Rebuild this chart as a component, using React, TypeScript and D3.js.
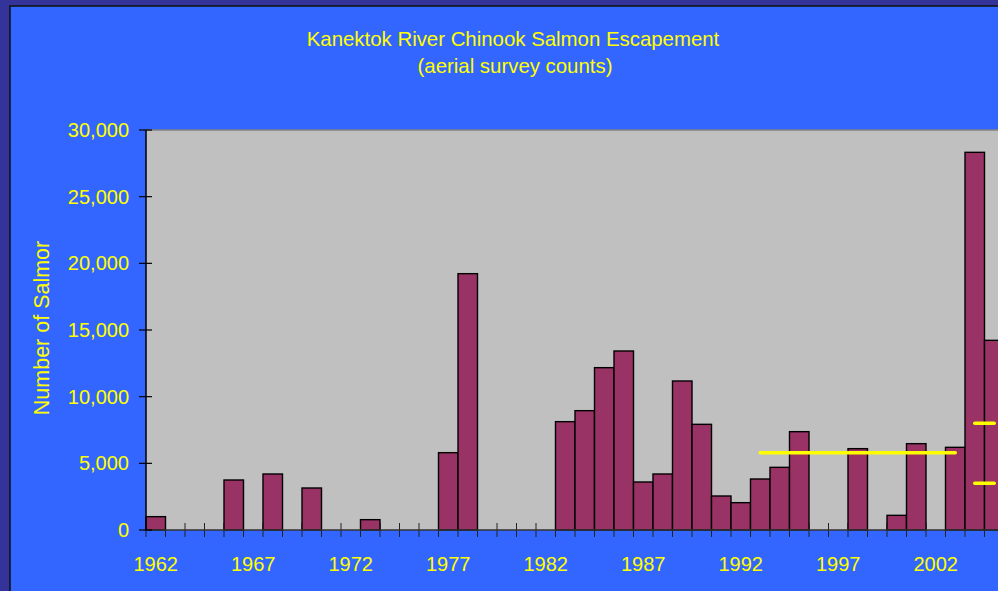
import React from "react";
import * as d3 from "d3";

// escapement counts by year (0 = no survey)
const years = d3.range(1962, 2006);
const counts = [
  1000, 0, 0, 0, 3750, 0, 4200, 0, 3150, 0,
  0, 775, 0, 0, 0, 5800, 19225, 0, 0, 0,
  0, 8125, 8950, 12175, 13425, 3600, 4200, 11175, 7925, 2550,
  2050, 3825, 4700, 7375, 0, 0, 6100, 0, 1100, 6475,
  0, 6200, 28325, 14225,
];
const yTicks = [0, 5000, 10000, 15000, 20000, 25000, 30000];
const labelYears = [1962, 1967, 1972, 1977, 1982, 1987, 1992, 1997, 2002];

// goal ranges drawn as yellow lines
const goalLines = [
  { from: 1993, to: 2003, value: 5800 },
  { from: 2004, to: 2005, value: 8000 },
  { from: 2004, to: 2005, value: 3500 },
];

const W = 998, H = 591;
const plot = { left: 146, top: 130, bottom: 530 };
const step = 19.5;

export default function App() {
  const x = d3.scaleBand<number>()
    .domain(years)
    .range([plot.left, plot.left + years.length * step])
    .padding(0);
  const y = d3.scaleLinear().domain([0, 30000]).range([plot.bottom, plot.top]);
  const fmt = d3.format(",");
  const font = "'Liberation Sans', Arial, sans-serif";
  const yellow = "#FFFF00";
  const center = (yr: number) => (x(yr) as number) + x.bandwidth() / 2;

  return (
    <div style={{ position: "fixed", left: 0, top: 0 }}>
      <svg width={W} height={H} style={{ display: "block" }} fontFamily={font}>
        <rect x={0} y={0} width={W} height={H} fill="#333399" />
        <rect x={10} y={6} width={W + 10} height={H + 10} fill="#3366FF" stroke="#111" strokeWidth={1.5} />

        <text x={513} y={46} textAnchor="middle" fontSize={20.4} fill={yellow}>
          Kanektok River Chinook Salmon Escapement
        </text>
        <text x={515} y={73} textAnchor="middle" fontSize={20.4} fill={yellow}>
          (aerial survey counts)
        </text>

        {/* plot background */}
        <rect x={plot.left} y={plot.top} width={W} height={plot.bottom - plot.top} fill="#C0C0C0" />
        <line x1={plot.left} x2={W} y1={plot.top} y2={plot.top} stroke="#808080" strokeWidth={1.5} />

        {/* x ticks at category boundaries */}
        {d3.range(years.length + 1).map((i) => {
          const xx = plot.left + i * step;
          return <line key={i} x1={xx} x2={xx} y1={plot.bottom - 7} y2={plot.bottom + 7} stroke="#222" strokeWidth={1} />;
        })}

        {/* bars */}
        {years.map((yr, i) =>
          counts[i] > 0 ? (
            <rect key={yr} x={x(yr)} y={y(counts[i])} width={x.bandwidth()} height={plot.bottom - y(counts[i])}
              fill="#993366" stroke="#000" strokeWidth={1.4} />
          ) : null
        )}

        {/* axes */}
        <line x1={plot.left} x2={W} y1={plot.bottom} y2={plot.bottom} stroke="#333" strokeWidth={1.5} />
        <line x1={plot.left} x2={plot.left} y1={plot.top} y2={plot.bottom} stroke="#000" strokeWidth={1.5} />
        {yTicks.map((t) => (
          <g key={t}>
            <line x1={plot.left - 7} x2={plot.left + 6} y1={y(t)} y2={y(t)} stroke="#000" strokeWidth={1.2} />
            <text x={129} y={y(t) + 7} textAnchor="end" fontSize={20} fill={yellow}>{fmt(t)}</text>
          </g>
        ))}
        {labelYears.map((yr) => (
          <text key={yr} x={center(yr)} y={571} textAnchor="middle" fontSize={20} fill={yellow}>{yr}</text>
        ))}

        <text transform="translate(49,328) rotate(-90)" textAnchor="middle" fontSize={21.5} fill={yellow}>
          Number of Salmor
        </text>

        {/* goal lines */}
        {goalLines.map((g, i) => (
          <line key={i} x1={center(g.from)} x2={center(g.to)} y1={y(g.value)} y2={y(g.value)}
            stroke={yellow} strokeWidth={3.5} strokeLinecap="round" />
        ))}
      </svg>
    </div>
  );
}
